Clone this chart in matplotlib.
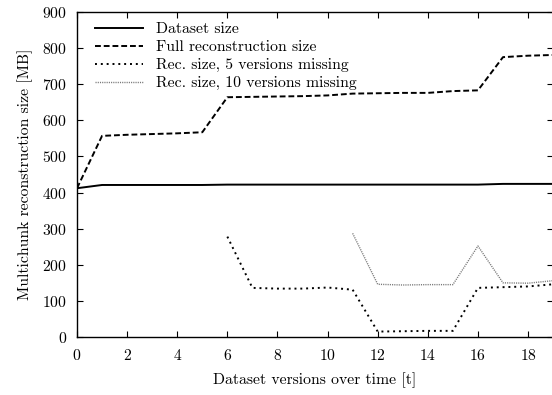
import matplotlib
matplotlib.use("Agg")
import matplotlib.pyplot as plt

plt.rcParams["font.family"] = "serif"
plt.rcParams["font.serif"] = ["cmr10", "DejaVu Serif"]
plt.rcParams["axes.formatter.use_mathtext"] = True
plt.rcParams["mathtext.fontset"] = "cm"

versions = list(range(20))
dataset_size = [412, 421, 421, 421, 421, 421, 422, 422, 422, 422, 422, 422,
                422, 422, 422, 422, 422, 424, 424, 424]
full_rec = [412, 557, 560, 562, 564, 567, 664, 665, 666, 667, 669, 674,
            675, 676, 676, 681, 683, 775, 779, 781]
rec5_x = list(range(6, 20))
rec5 = [278, 136, 134, 134, 137, 131, 15, 16, 17, 17, 136, 138, 140, 146]
rec10_x = list(range(11, 20))
rec10 = [287, 146, 144, 145, 145, 252, 150, 149, 156]

FS = 11.3

fig = plt.figure(figsize=(5.52, 3.95), dpi=100)
ax = fig.add_axes([77 / 552, 1 - 337 / 395, 1 - 77 / 552 + 0.002, (337 - 12) / 395])

ax.plot(versions, dataset_size, color="black", lw=1.4, label="Dataset size")
ax.plot(versions, full_rec, color="black", lw=1.4, dashes=(3, 1.5),
        label="Full reconstruction size")
ax.plot(rec5_x, rec5, color="black", lw=1.4, dashes=(1, 2),
        label="Rec. size, 5 versions missing")
ax.plot(rec10_x, rec10, color="#777777", lw=1.0, dashes=(0.8, 0.8),
        label="Rec. size, 10 versions missing")

ax.set_xlim(0, 19)
ax.set_ylim(0, 900)
ax.set_xticks(range(0, 19, 2))
ax.set_yticks(range(0, 901, 100))
ax.tick_params(direction="in", top=True, right=True, length=4, labelsize=FS)
ax.tick_params(axis="x", pad=8)
ax.tick_params(axis="y", pad=7)
for s in ax.spines.values():
    s.set_linewidth(1.0)

ax.set_xlabel("Dataset versions over time [t]", fontsize=FS, labelpad=7)
ax.set_ylabel("Multichunk reconstruction size [MB]", fontsize=FS, labelpad=7)

ax.legend(loc="upper left", frameon=False, fontsize=FS, handlelength=3.05,
          handletextpad=0.85, labelspacing=0.26, borderaxespad=0.0,
          borderpad=0.4, bbox_to_anchor=(0.025, 0.988))

fig.savefig("out.png", dpi=100)
